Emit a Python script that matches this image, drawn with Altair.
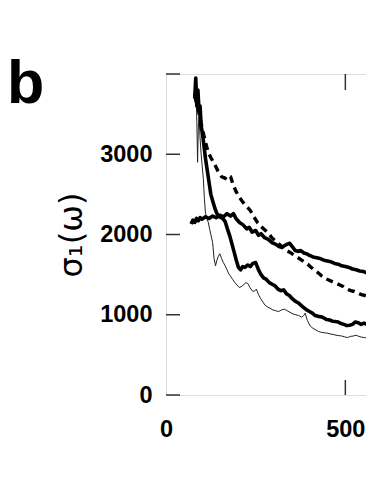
import altair as alt
import pandas as pd

# ---- data ----
upper_x = [70, 75, 80, 85, 90, 95, 100, 110, 120, 130, 140, 150, 160, 170, 180, 188, 195, 205, 215, 225, 232, 240, 250, 258, 265, 275, 285, 295, 305, 315, 322, 330, 338, 345, 352, 360, 368, 376, 384, 392, 400, 410, 420, 430, 440, 450, 460, 470, 480, 490, 500, 510, 520, 530, 540, 550, 560, 570, 580]
upper_y = [2130, 2180, 2150, 2200, 2170, 2210, 2190, 2220, 2200, 2230, 2210, 2240, 2220, 2260, 2230, 2260, 2200, 2150, 2120, 2070, 2090, 2030, 2050, 1990, 2010, 1960, 1940, 1900, 1880, 1850, 1840, 1860, 1880, 1890, 1850, 1800, 1790, 1800, 1770, 1760, 1740, 1720, 1710, 1700, 1680, 1670, 1660, 1640, 1630, 1610, 1600, 1590, 1570, 1560, 1545, 1540, 1520, 1510, 1500]

dashed_x = [80, 88, 95, 102, 110, 118, 126, 135, 145, 155, 165, 172, 180, 188, 196, 205, 215, 225, 235, 245, 255, 265, 275, 285, 295, 305, 315, 325, 335, 345, 355, 365, 375, 385, 395, 405, 415, 425, 435, 445, 455, 465, 475, 485, 495, 505, 515, 525, 535, 545, 555, 565, 575, 580]
dashed_y = [3720, 3600, 3450, 3300, 3150, 3020, 2950, 2880, 2790, 2720, 2700, 2740, 2720, 2610, 2530, 2460, 2400, 2350, 2300, 2220, 2150, 2100, 2060, 2020, 1960, 1920, 1880, 1840, 1800, 1780, 1750, 1720, 1690, 1660, 1630, 1590, 1550, 1520, 1480, 1450, 1430, 1410, 1390, 1370, 1350, 1320, 1300, 1290, 1270, 1250, 1240, 1230, 1215, 1210]

lower_x = [80, 83, 86, 89, 92, 95, 98, 102, 106, 110, 115, 120, 125, 130, 136, 142, 150, 158, 165, 172, 178, 184, 190, 196, 202, 208, 214, 220, 228, 235, 242, 250, 258, 265, 272, 280, 288, 296, 304, 312, 320, 328, 336, 344, 352, 360, 368, 376, 384, 392, 400, 408, 416, 424, 432, 440, 448, 456, 464, 472, 480, 488, 496, 504, 512, 520, 528, 536, 544, 552, 560, 568, 576, 580]
lower_y = [3700, 3950, 3600, 3800, 3550, 3600, 3350, 3250, 3100, 2950, 2800, 2650, 2500, 2420, 2330, 2260, 2220, 2200, 2160, 2060, 1980, 1880, 1780, 1680, 1590, 1560, 1600, 1590, 1620, 1600, 1640, 1650, 1560, 1500, 1460, 1440, 1400, 1380, 1360, 1320, 1300, 1310, 1260, 1240, 1200, 1170, 1150, 1120, 1090, 1060, 1040, 1020, 990, 980, 975, 960, 940, 935, 920, 915, 910, 890, 880, 865, 870, 880, 910, 900, 880, 895, 880, 860, 850, 845]

thin_x = [82, 84, 86, 88, 90, 92, 95, 98, 101, 104, 107, 110, 114, 118, 122, 126, 130, 134, 138, 142, 146, 150, 155, 160, 165, 170, 175, 180, 186, 192, 198, 204, 210, 216, 222, 228, 234, 240, 246, 252, 258, 264, 270, 276, 282, 290, 298, 306, 314, 322, 330, 338, 346, 354, 362, 370, 378, 384, 388, 394, 402, 410, 418, 426, 434, 442, 450, 458, 466, 474, 482, 490, 498, 506, 514, 522, 530, 538, 546, 554, 562, 570, 580]
thin_y = [3600, 3800, 3400, 2900, 3300, 3500, 3200, 3000, 2850, 2700, 2450, 2270, 2200, 2150, 2060, 1980, 1900, 1700, 1610, 1680, 1730, 1760, 1700, 1650, 1610, 1560, 1510, 1480, 1440, 1400, 1370, 1340, 1350, 1370, 1400, 1390, 1340, 1300, 1290, 1320, 1250, 1200, 1160, 1120, 1100, 1080, 1060, 1050, 1040, 1060, 1070, 1050, 1030, 1010, 1000, 990, 970, 990, 1020, 930, 860, 830, 810, 790, 780, 775, 770, 760, 755, 745, 740, 735, 725, 715, 730, 735, 745, 730, 720, 715, 710, 705, 695]

x_tick_labels = [0, 500]
y_tick_labels = [0, 1000, 2000, 3000]
y_tick_marks = [0, 1000, 2000, 3000, 4000]
x_tick_marks = [500]

X_DOMAIN = [0, 557.6]
Y_DOMAIN = [0, 4000]
W, H = 200, 321
AX = "#333333"
FONT = "Liberation Sans"

xscale = alt.Scale(domain=X_DOMAIN, nice=False, zero=False)
yscale = alt.Scale(domain=Y_DOMAIN, nice=False, zero=False)


def series(xs, ys):
    return pd.DataFrame({"omega": xs, "sigma": ys})


x_axis = alt.Axis(values=x_tick_labels, title=None, domain=False, ticks=False, tickSize=0,
                  grid=False, format="d", labelFont=FONT, labelFontWeight="bold",
                  labelFontSize=23.5, labelColor="black", labelPadding=22, labelFlush=False)
y_axis = alt.Axis(values=y_tick_labels, title="σ₁(ω)", domain=False, ticks=False, tickSize=0,
                  grid=False, format="d", labelFont=FONT, labelFontWeight="bold",
                  labelFontSize=23.5, labelColor="black", labelPadding=14, labelFlush=False,
                  titleFont="DejaVu Sans", titleFontWeight="normal", titleFontSize=32,
                  titleColor="black", titlePadding=11)

X = alt.X("omega:Q", scale=xscale, axis=x_axis)
Y = alt.Y("sigma:Q", scale=yscale, axis=y_axis)

thin = alt.Chart(series(thin_x, thin_y)).mark_line(
    color="#222222", strokeWidth=1.0, clip=True
).encode(x=X, y=Y)

lower = alt.Chart(series(lower_x, lower_y)).mark_line(
    color="black", strokeWidth=3.6, strokeJoin="round", clip=True
).encode(x=X, y=Y)

upper = alt.Chart(series(upper_x, upper_y)).mark_line(
    color="black", strokeWidth=3.6, strokeJoin="round", clip=True
).encode(x=X, y=Y)

dashed = alt.Chart(series(dashed_x, dashed_y)).mark_line(
    color="black", strokeWidth=3.4, strokeDash=[7, 5], clip=True
).encode(x=X, y=Y)

ytick = alt.Chart(pd.DataFrame({"sigma": y_tick_marks})).mark_rule(
    color=AX, strokeWidth=1.5
).encode(
    y=Y,
    x=alt.value(0), x2=alt.value(14),
)

xtick_bottom = alt.Chart(pd.DataFrame({"omega": x_tick_marks})).mark_rule(
    color=AX, strokeWidth=1.5
).encode(
    x=X,
    y=alt.value(H), y2=alt.value(H - 15),
)

xtick_top = alt.Chart(pd.DataFrame({"omega": x_tick_marks})).mark_rule(
    color=AX, strokeWidth=1.5
).encode(
    x=X,
    y=alt.value(0), y2=alt.value(16),
)

chart = alt.layer(
    thin, lower, upper, dashed, ytick, xtick_bottom, xtick_top
).properties(
    width=W, height=H,
    autosize=alt.AutoSizeParams(type="none"),
    padding={"left": 158, "top": 66, "right": 0, "bottom": 60},
    title=alt.TitleParams(
        text="b", font=FONT, fontSize=61, fontWeight="bold", color="black",
        anchor="start", frame="group", orient="top", baseline="alphabetic",
        offset=0, dx=-159, dy=91,
    ),
).configure_view(
    stroke=AX, strokeWidth=1.5
).configure(background="white")

chart.save("out.html", embed_options={"renderer": "svg", "actions": False})
